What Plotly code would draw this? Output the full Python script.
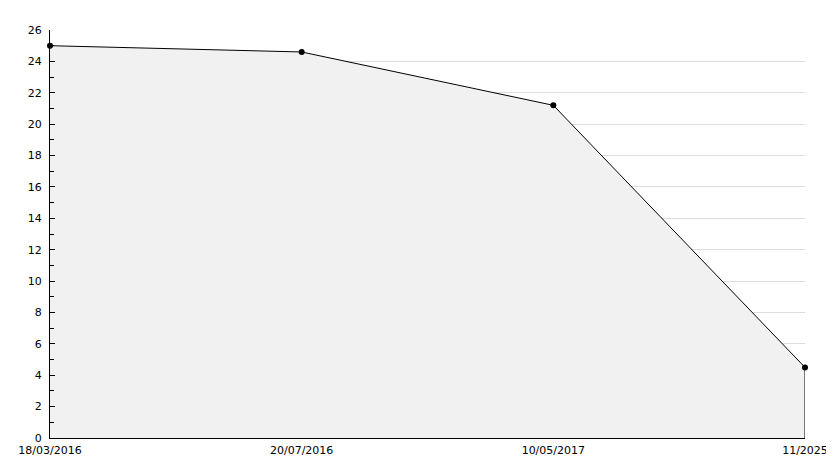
import plotly.graph_objects as go

# Data
dates = ["18/03/2016", "20/07/2016", "10/05/2017", "11/2025"]
values = [25.0, 24.6, 21.2, 4.5]
y_ticks = list(range(0, 27, 2))

fig = go.Figure()

# Filled area under the line
fig.add_trace(
    go.Scatter(
        x=dates,
        y=values,
        mode="lines+markers",
        fill="tozeroy",
        fillcolor="#f1f1f1",
        line=dict(color="black", width=1),
        marker=dict(color="black", size=6, symbol="circle"),
        showlegend=False,
        cliponaxis=False,
    )
)

# Closing edge of the area at the last point
fig.add_trace(
    go.Scatter(
        x=[dates[-1], dates[-1]],
        y=[values[-1], 0],
        mode="lines",
        line=dict(color="black", width=1),
        showlegend=False,
        hoverinfo="skip",
        cliponaxis=False,
    )
)

# page body adds an 8px offset, so the figure is a bit smaller than the window
fig.update_layout(
    width=826,
    height=460,
    margin=dict(l=42, r=29, t=22, b=30),
    paper_bgcolor="white",
    plot_bgcolor="white",
    font=dict(family="DejaVu Sans", size=11, color="black"),
    xaxis=dict(
        type="category",
        range=[0, len(dates) - 1],
        showgrid=False,
        showline=True,
        linecolor="black",
        linewidth=1,
        ticks="",
        zeroline=False,
        automargin=False,
        ticklabelstandoff=2,
    ),
    yaxis=dict(
        range=[0, 26],
        tickvals=y_ticks,
        showgrid=True,
        gridcolor="#dddddd",
        gridwidth=1,
        showline=True,
        linecolor="black",
        linewidth=1,
        ticks="inside",
        ticklen=5,
        tickcolor="black",
        minor=dict(dtick=1, ticks="inside", ticklen=4, tickcolor="black", showgrid=False),
        zeroline=False,
        automargin=False,
        ticklabelstandoff=5,
    ),
)

fig.write_html("out.html")
